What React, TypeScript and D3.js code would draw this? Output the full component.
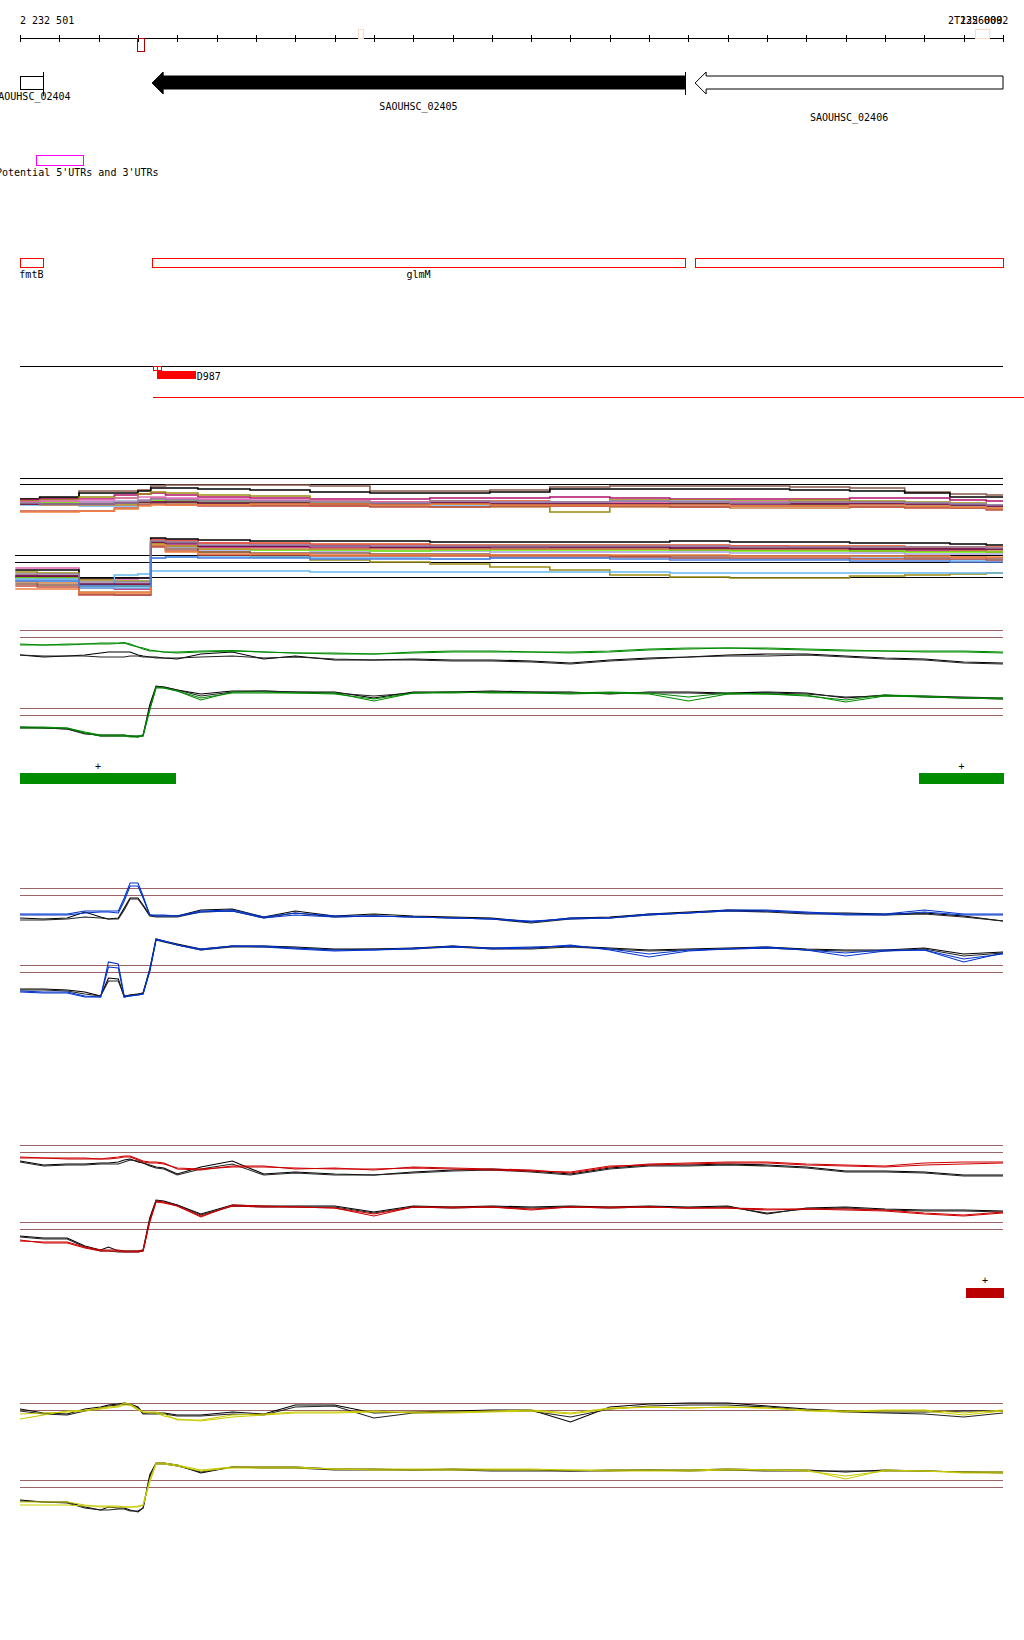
import React from 'react';
import * as d3 from 'd3';

// ---------------- genome window & axis ----------------
const START = 2232500;
const END = 2235000;
const AXIS_LEFT_LABEL = '2 232 501';
const AXIS_RIGHT_LABELS = ['2 235 000', 'T12260092'];

// ---------------- gene track ----------------
const GENE_NAMES = ['SAOUHSC_02404', 'SAOUHSC_02405', 'SAOUHSC_02406'];
const GENE_STARTS = [2232500, 2232836, 2234217];
const GENE_ENDS = [2232558, 2234191, 2235000];
const GENE_STRANDS = ['none', '-', '-'];
const GENE_FILLED = [false, true, false];

// ---------------- UTR / annotation tracks ----------------
const UTR_LABEL = "Potential 5'UTRs and 3'UTRs";
const UTR_START = [2232541];
const UTR_END = [2232660];
const ANNOT_NAMES = ['fmtB', 'glmM', ''];
const ANNOT_STARTS = [2232500, 2232836, 2234217];
const ANNOT_ENDS = [2232558, 2234191, 2235000];
const AXIS_MARK_STARTS = [2232798, 2233360, 2234929];
const AXIS_MARK_ENDS = [2232815, 2233372, 2234964];
const FEATURE_LABEL = 'D987';
const FEATURE_OPEN = [[2232838, 2232848], [2232848, 2232859]];
const FEATURE_FILLED = [2232848, 2232948];
const FEATURE_LINE = [2232838, 2235053];

// ---------------- expression tracks ----------------
const POS = [2232500, 2232560, 2232620, 2232665, 2232705, 2232725, 2232750, 2232765, 2232780, 2232800, 2232813, 2232830, 2232846, 2232866, 2232900, 2232960, 2233040, 2233120, 2233200, 2233300, 2233400, 2233500, 2233600, 2233700, 2233800, 2233900, 2234000, 2234100, 2234200, 2234300, 2234400, 2234500, 2234600, 2234700, 2234800, 2234900, 2235000];

const GREEN_TOP_C1 = [26, 25, 26, 26, 27, 27, 27, 27.5, 26, 23, 22, 20, 19, 18, 18, 19, 19.5, 18, 17, 16, 16, 18, 19, 19, 18, 18, 19, 21, 22, 22, 22, 21, 20, 19, 19, 19, 18];
const GREEN_TOP_C2 = [25, 25, 25, 26, 26, 26, 26.5, 27, 25, 23, 21, 19, 19, 18, 17, 18, 19, 18, 17, 17, 16, 17, 18, 18, 18, 17, 18, 20, 21, 22, 21, 20, 19, 19, 18, 18, 17];
const GREEN_TOP_K1 = [15, 13, 14, 15, 17, 18, 18, 18, 18, 15, 14, 13, 13, 12, 11, 16, 18, 11, 14, 10, 10, 11, 10, 10, 9, 7, 10, 12, 13, 15, 16, 16, 14, 12, 11, 8, 7];
const GREEN_TOP_K2 = [15, 14, 14, 14, 13, 13, 13, 13, 14, 14, 13, 13, 12, 12, 12, 13, 14, 12, 13, 11, 10, 10, 9, 9, 8, 6, 9, 11, 13, 14, 14, 15, 13, 11, 10, 7, 6];
const GREEN_BOT_K1 = [21, 20, 19, 15, 12, 12, 12, 12, 12, 11, 13, 43, 62, 61, 58, 54, 57, 57, 56, 56, 50, 56, 56, 57, 56, 56, 54, 56, 56, 55, 56, 55, 50, 53, 51, 50, 49];
const GREEN_BOT_K2 = [20, 20, 19, 14, 13, 13, 13, 13, 12, 12, 12, 40, 61, 61, 58, 52, 56, 57, 56, 55, 52, 55, 56, 56, 56, 55, 55, 55, 55, 54, 55, 54, 51, 52, 52, 51, 50];
const GREEN_BOT_C1 = [20, 20, 20, 15, 12, 12, 12, 12, 11, 11, 12, 38, 61, 60, 57, 48, 56, 56, 55, 55, 47, 55, 55, 56, 55, 54, 55, 54, 47, 54, 54, 53, 46, 52, 51, 50, 50];
const GREEN_BOT_C2 = [21, 21, 20, 16, 13, 13, 13, 13, 12, 12, 13, 39, 60, 60, 57, 50, 55, 55, 55, 54, 49, 55, 56, 55, 55, 55, 56, 55, 51, 55, 54, 52, 48, 53, 52, 50, 49];

const BLUE_TOP_C1 = [14, 14, 14, 17, 17, 17, 17, 30, 45, 45, 32, 13, 13, 13, 12, 17, 18, 11, 15, 12, 12, 11, 10, 9, 6, 10, 10, 14, 15, 18, 18, 16, 14, 14, 18, 14, 14];
const BLUE_TOP_C2 = [13, 13, 13, 15, 16, 16, 15, 27, 42, 42, 30, 13, 12, 12, 12, 16, 17, 10, 13, 11, 12, 11, 10, 9, 7, 9, 10, 13, 15, 17, 17, 15, 13, 13, 16, 13, 13];
const BLUE_TOP_K1 = [10, 9, 10, 16, 11, 9, 10, 20, 30, 30, 23, 13, 12, 12, 12, 18, 19, 11, 17, 12, 14, 12, 11, 10, 6, 10, 11, 14, 16, 18, 17, 15, 15, 14, 15, 12, 7];
const BLUE_TOP_K2 = [8, 8, 9, 11, 10, 9, 9, 18, 29, 29, 22, 12, 11, 11, 11, 16, 17, 10, 15, 11, 12, 11, 10, 9, 5, 9, 10, 13, 15, 17, 16, 14, 14, 13, 14, 11, 7];
const BLUE_BOT_C1 = [14, 13, 13, 9, 8, 43, 41, 9, 9, 10, 11, 35, 66, 64, 60, 55, 59, 58, 56, 54, 55, 56, 59, 56, 57, 60, 55, 48, 54, 56, 58, 55, 49, 54, 55, 43, 52];
const BLUE_BOT_C2 = [13, 12, 12, 8, 8, 38, 37, 8, 9, 10, 11, 34, 65, 64, 60, 56, 59, 59, 57, 55, 55, 57, 58, 57, 58, 59, 56, 51, 55, 56, 57, 55, 52, 55, 55, 46, 51];
const BLUE_BOT_K1 = [16, 16, 15, 13, 9, 27, 26, 8, 10, 11, 12, 36, 66, 64, 61, 56, 59, 59, 58, 56, 56, 57, 59, 57, 57, 59, 57, 55, 56, 57, 58, 56, 55, 55, 57, 51, 53];
const BLUE_BOT_K2 = [15, 15, 14, 11, 9, 24, 24, 9, 10, 11, 12, 34, 65, 63, 60, 55, 58, 58, 57, 55, 56, 56, 58, 56, 56, 58, 56, 54, 55, 56, 57, 55, 54, 54, 56, 49, 52];

const RED_TOP_C1 = [28, 27, 27, 27, 26, 27, 28, 29, 29, 26, 24, 23, 23, 22, 16, 15, 19, 19, 16, 17, 15, 18, 17, 16, 15, 12, 18, 21, 22, 23, 23, 21, 20, 19, 22, 23, 23];
const RED_TOP_C2 = [27, 27, 26, 26, 26, 26, 27, 28, 28, 25, 23, 22, 22, 21, 17, 16, 18, 18, 17, 16, 16, 17, 16, 15, 14, 13, 19, 20, 21, 22, 22, 20, 19, 18, 20, 21, 22];
const RED_TOP_K1 = [24, 20, 21, 21, 22, 22, 23, 25, 26, 23, 22, 20, 18, 17, 11, 18, 24, 11, 13, 11, 10, 13, 15, 16, 14, 11, 17, 20, 20, 21, 20, 18, 14, 14, 13, 10, 10];
const RED_TOP_K2 = [23, 19, 20, 20, 21, 21, 21, 23, 25, 24, 22, 19, 17, 16, 10, 16, 21, 10, 12, 10, 10, 12, 14, 15, 13, 10, 16, 19, 19, 20, 19, 17, 13, 13, 12, 9, 9];
const RED_BOT_K1 = [26, 24, 24, 16, 12, 15, 11, 11, 11, 11, 12, 44, 62, 61, 57, 48, 57, 56, 56, 56, 50, 56, 55, 56, 55, 56, 55, 56, 55, 56, 48, 54, 55, 53, 52, 52, 51];
const RED_BOT_K2 = [25, 23, 23, 15, 11, 11, 10, 10, 10, 10, 11, 42, 61, 60, 57, 47, 56, 55, 55, 55, 49, 55, 54, 55, 54, 55, 54, 55, 54, 55, 49, 53, 54, 52, 51, 51, 50];
const RED_BOT_C1 = [22, 19, 19, 14, 11, 11, 11, 10, 10, 10, 11, 40, 60, 59, 56, 45, 57, 56, 55, 54, 46, 55, 55, 55, 52, 55, 55, 55, 54, 54, 53, 53, 53, 52, 49, 47, 50];
const RED_BOT_C2 = [21, 20, 20, 15, 12, 12, 12, 11, 11, 11, 12, 41, 61, 60, 56, 46, 56, 55, 55, 54, 48, 55, 54, 55, 53, 55, 54, 55, 54, 54, 52, 53, 52, 51, 48, 46, 49];

const YELLOW_TOP_C1 = [24, 28, 32, 33, 35, 36, 37, 40, 39, 34, 31, 31, 31, 29, 23, 23, 28, 29, 31, 31, 32, 30, 30, 31, 32, 29, 34, 36, 35, 36, 35, 32, 31, 32, 32, 28, 32];
const YELLOW_TOP_C2 = [29, 30, 31, 32, 34, 35, 36, 38, 38, 33, 31, 30, 30, 27, 24, 22, 26, 28, 30, 30, 31, 31, 31, 32, 33, 30, 35, 36, 35, 36, 35, 33, 32, 33, 33, 30, 33];
const YELLOW_TOP_K1 = [34, 30, 29, 34, 36, 38, 39, 40, 39, 36, 30, 30, 30, 30, 28, 28, 31, 29, 38, 38, 30, 31, 32, 33, 33, 21, 36, 39, 40, 40, 37, 34, 32, 31, 31, 32, 32];
const YELLOW_TOP_K2 = [32, 29, 28, 32, 35, 37, 38, 39, 38, 35, 29, 29, 29, 29, 27, 27, 29, 28, 36, 37, 25, 30, 31, 32, 32, 26, 34, 37, 38, 38, 36, 33, 31, 30, 29, 26, 30];
const YELLOW_BOT_K1 = [20, 18, 18, 13, 10, 13, 12, 12, 10, 8, 12, 45, 57, 57, 55, 47, 53, 53, 53, 51, 51, 50, 51, 50, 50, 49, 50, 50, 50, 51, 50, 50, 48, 50, 49, 48, 48];
const YELLOW_BOT_K2 = [19, 18, 17, 12, 10, 10, 11, 11, 9, 9, 12, 43, 56, 56, 54, 48, 53, 52, 52, 50, 50, 50, 50, 49, 49, 49, 49, 50, 49, 50, 49, 49, 49, 49, 49, 48, 47];
const YELLOW_BOT_C1 = [18, 18, 18, 15, 13, 13, 13, 13, 13, 13, 15, 40, 57, 57, 55, 50, 53, 53, 53, 51, 51, 51, 51, 51, 51, 50, 50, 50, 50, 51, 50, 50, 41, 50, 49, 48, 48];
const YELLOW_BOT_C2 = [15, 15, 15, 14, 14, 14, 14, 13, 13, 14, 15, 38, 56, 56, 54, 49, 52, 52, 52, 51, 50, 50, 50, 50, 50, 50, 49, 49, 49, 50, 50, 49, 44, 49, 49, 47, 47];

// ---------------- multi-sample track ----------------
const MC_POS_TOP = [2232500, 2232600, 2232700, 2232780, 2232820, 2232845, 2232895, 2233010, 2233160, 2233315, 2233465, 2233620, 2233770, 2233925, 2234075, 2234230, 2234380, 2234535, 2234685, 2234815, 2234915, 2235000];
const MC_POS_BOT = [2232488, 2232600, 2232700, 2232780, 2232820, 2232845, 2232895, 2233010, 2233160, 2233315, 2233465, 2233620, 2233770, 2233925, 2234075, 2234230, 2234380, 2234535, 2234685, 2234815, 2234915, 2235000];
const MC_TOP_COLORS = ['#8b5a4a', '#000000', '#b0106a', '#9a8c10', '#e0502a', '#a8a0e0', '#70f000', '#e070c0', '#66b8f0', '#c88040', '#c05040', '#600040', '#f08040', '#9080a0'];
const MC_TOP = [
  [19, 20, 27, 27, 28, 32, 33, 33, 33, 32, 27, 27, 28, 31, 32, 32, 32, 31, 30, 26, 24, 23],
  [19, 21, 25, 25, 27, 30, 30, 29, 28, 26, 25, 25, 26, 29, 29, 29, 29, 28, 27, 25, 21, 21],
  [18, 19, 19, 23, 24, 25, 23, 21, 20, 19, 19, 20, 20, 21, 20, 19, 19, 19, 20, 20, 18, 17],
  [17, 18, 21, 20, 24, 26, 25, 23, 22, 17, 16, 14, 12, 6, 18, 18, 17, 18, 17, 16, 15, 13],
  [16, 16, 16, 16, 18, 20, 19, 18, 17, 16, 16, 17, 17, 16, 16, 15, 16, 16, 16, 15, 14, 12],
  [15, 15, 16, 17, 18, 18, 18, 17, 16, 16, 15, 16, 16, 16, 17, 17, 16, 15, 15, 15, 14, 13],
  [15, 15, 14, 14, 16, 17, 17, 16, 15, 15, 14, 15, 14, 14, 14, 15, 15, 14, 14, 13, 12, 11],
  [16, 17, 18, 20, 21, 21, 20, 19, 18, 17, 16, 16, 15, 15, 15, 16, 16, 15, 14, 14, 13, 12],
  [13, 13, 12, 12, 14, 15, 14, 13, 13, 13, 12, 12, 13, 13, 13, 12, 12, 12, 13, 12, 12, 10],
  [14, 13, 13, 13, 15, 16, 15, 14, 13, 12, 12, 11, 11, 12, 11, 11, 10, 10, 11, 11, 10, 9],
  [7, 7, 7, 10, 13, 14, 13, 12, 12, 12, 11, 11, 12, 12, 12, 11, 12, 12, 11, 10, 10, 8],
  [14, 14, 14, 15, 16, 16, 16, 15, 15, 14, 14, 15, 14, 14, 14, 14, 14, 14, 14, 14, 13, 12],
  [6, 6, 7, 9, 12, 13, 13, 13, 14, 14, 13, 14, 13, 13, 13, 13, 12, 12, 13, 12, 11, 10],
  [15, 14, 14, 15, 17, 19, 18, 17, 17, 16, 15, 17, 16, 16, 17, 16, 15, 16, 16, 15, 14, 13],
];
const MC_BOT_COLORS = ['#e060b0', '#000000', '#9a8c10', '#e0502a', '#b0106a', '#a8a0e0', '#70f000', '#66b8f0', '#66b8f0', '#c88040', '#8b5a4a', '#c05040', '#f08040', '#600040', '#9080a0', '#5080e0'];
const MC_BOT = [
  [27, 27, 16, 16, 17, 56, 55, 52, 51, 50, 50, 49, 49, 48, 48, 48, 49, 48, 47, 47, 46, 46],
  [25, 25, 17, 17, 17, 57, 56, 55, 54, 54, 54, 53, 53, 53, 53, 54, 53, 53, 52, 52, 51, 50],
  [23, 22, 15, 14, 14, 52, 48, 43, 38, 35, 33, 31, 28, 25, 20, 18, 17, 17, 19, 20, 21, 22],
  [20, 19, 10, 10, 10, 55, 54, 52, 52, 51, 51, 50, 50, 50, 50, 50, 49, 49, 49, 48, 48, 48],
  [18, 18, 7, 6, 6, 52, 50, 48, 48, 47, 47, 47, 46, 46, 46, 45, 45, 45, 44, 44, 44, 43],
  [15, 16, 8, 9, 9, 50, 48, 45, 45, 44, 44, 44, 43, 43, 43, 43, 42, 42, 42, 41, 41, 41],
  [17, 17, 9, 9, 9, 51, 49, 46, 45, 45, 44, 45, 45, 45, 45, 45, 44, 44, 44, 43, 43, 43],
  [16, 16, 10, 20, 21, 24, 24, 24, 24, 23, 23, 23, 23, 23, 23, 22, 22, 22, 22, 22, 22, 22],
  [14, 14, 7, 7, 7, 37, 38, 38, 38, 37, 37, 36, 37, 37, 38, 37, 36, 36, 37, 36, 35, 35],
  [13, 12, 3, 3, 3, 52, 49, 46, 46, 46, 46, 46, 46, 46, 46, 46, 46, 46, 46, 46, 45, 45],
  [11, 10, 1, 0, 0, 49, 46, 43, 42, 42, 41, 41, 40, 40, 39, 39, 39, 39, 39, 38, 38, 37],
  [9, 8, 0, 0, 0, 48, 44, 40, 40, 39, 39, 39, 38, 38, 38, 37, 37, 37, 36, 36, 36, 35],
  [6, 6, 2, 2, 2, 50, 43, 41, 41, 40, 40, 40, 40, 40, 40, 40, 39, 39, 39, 39, 38, 38],
  [19, 19, 11, 11, 11, 53, 52, 49, 49, 49, 48, 48, 48, 48, 48, 47, 47, 47, 46, 46, 46, 46],
  [21, 21, 13, 13, 13, 54, 53, 50, 50, 49, 49, 49, 49, 49, 49, 49, 48, 48, 48, 48, 48, 47],
  [14, 14, 9, 9, 9, 37, 38, 37, 37, 36, 36, 36, 37, 37, 36, 35, 35, 35, 34, 34, 33, 33],
];

// ---------------- strand call markers ----------------
const GREEN_CALL_STARTS = [2232500, 2234786];
const GREEN_CALL_ENDS = [2232897, 2235003];
const RED_CALL_STARTS = [2234906];
const RED_CALL_ENDS = [2235003];

const THRESHOLDS = [40, 33];

const FONT = "'DejaVu Sans Mono', 'Liberation Mono', monospace";
const BROWN = '#9a6464';

const x = d3.scaleLinear().domain([START, END]).range([20, 1003]);
const trackY = (yHi: number) => d3.scaleLinear().domain([33, 40]).range([yHi + 7, yHi]);

function path(pos: number[], vals: number[], y: d3.ScaleLinear<number, number>, curve: d3.CurveFactory) {
  return d3.line<number>()
    .defined((v) => v != null)
    .x((_, i) => x(pos[i]))
    .y((v) => y(v))
    .curve(curve)(vals) || '';
}

function Panel({ yTop, yBot, color, top, bot }: any) {
  const yt = trackY(yTop);
  const yb = trackY(yBot);
  const lines: any[] = [];
  const add = (vals: number[], y: any, c: string, k: string) =>
    lines.push(<path key={k} d={path(POS, vals, y, d3.curveLinear)} fill="none" stroke={c} strokeWidth={1.1} />);
  add(top[0], yt, '#000', 't0');
  add(top[1], yt, '#222', 't1');
  add(top[2], yt, color, 't2');
  add(top[3], yt, color, 't3');
  add(bot[0], yb, '#000', 'b0');
  add(bot[1], yb, '#222', 'b1');
  add(bot[2], yb, color, 'b2');
  add(bot[3], yb, color, 'b3');
  return (
    <g>
      {[yt, yb].map((y, j) =>
        THRESHOLDS.map((t) => (
          <line key={`th${j}${t}`} x1={x(START)} x2={x(END)} y1={Math.round(y(t)) + 0.5} y2={Math.round(y(t)) + 0.5}
            stroke={BROWN} strokeWidth={1} shapeRendering="crispEdges" />
        ))
      )}
      {lines}
    </g>
  );
}

export default function App() {
  const axisY = 38;
  const ticks = x.ticks(25);
  const geneY0 = 76, geneY1 = 89, headY0 = 72, headY1 = 94, yc = 83;
  const labelBaselines = [100, 110, 121];
  const mcTopY = trackY(478);
  const mcBotY = trackY(555);

  return (
    <svg width={1024} height={1640} style={{ position: 'absolute', left: 0, top: 0, background: '#fff' }}
      fontFamily={FONT} fontSize={10}>
      <rect x={0} y={0} width={1024} height={1640} fill="#fff" />
      {/* axis */}
      <text x={20} y={24}>{AXIS_LEFT_LABEL}</text>
      <text x={948} y={24}>{AXIS_RIGHT_LABELS[0]}</text>
      <text x={954} y={24}>{AXIS_RIGHT_LABELS[1]}</text>
      <line x1={x(START)} x2={x(END)} y1={axisY + 0.5} y2={axisY + 0.5} stroke="#000" shapeRendering="crispEdges" />
      {ticks.map((t) => (
        <line key={t} x1={Math.round(x(t)) + 0.5} x2={Math.round(x(t)) + 0.5} y1={35} y2={42} stroke="#000" shapeRendering="crispEdges" />
      ))}
      {AXIS_MARK_STARTS.map((s, i) => (
        <rect key={'am' + i} x={Math.round(x(s)) + 0.5} y={i === 0 ? axisY + 0.5 : 29.5}
          width={Math.round(x(AXIS_MARK_ENDS[i]) - x(s))} height={i === 0 ? 13 : 9}
          fill="none" stroke={i === 0 ? '#b00000' : '#ffd8c8'} shapeRendering="crispEdges" />
      ))}

      {/* genes */}
      {GENE_NAMES.map((name, i) => {
        const s = x(GENE_STARTS[i]);
        const e = x(GENE_ENDS[i]);
        let shape;
        if (GENE_STRANDS[i] === 'none') {
          shape = <rect x={s + 0.5} y={geneY0 + 0.5} width={e - s} height={geneY1 - geneY0} fill="#fff" stroke="#000" shapeRendering="crispEdges" />;
        } else {
          const pts = [[s, yc], [s + 11, headY0], [s + 11, geneY0], [e, geneY0], [e, geneY1], [s + 11, geneY1], [s + 11, headY1]];
          shape = <polygon points={pts.map((p) => p.join(',')).join(' ')} fill={GENE_FILLED[i] ? '#000' : '#fff'} stroke="#000" strokeWidth={1} />;
        }
        return (
          <g key={name}>
            {shape}
            {i < 2 && <line x1={Math.round(e) + 0.5} x2={Math.round(e) + 0.5} y1={headY0} y2={headY1 + 1} stroke="#000" shapeRendering="crispEdges" />}
            <text x={(s + e) / 2} y={labelBaselines[i]} textAnchor="middle">{name}</text>
          </g>
        );
      })}

      {/* UTRs */}
      {UTR_START.map((s, i) => (
        <rect key={'utr' + i} x={Math.round(x(s)) + 0.5} y={155.5} width={Math.round(x(UTR_END[i]) - x(s))} height={10}
          fill="none" stroke="#ff00ff" shapeRendering="crispEdges" />
      ))}
      <text x={-4} y={176}>{UTR_LABEL}</text>

      {/* annotations */}
      {ANNOT_STARTS.map((s, i) => (
        <g key={'an' + i}>
          <rect x={Math.round(x(s)) + 0.5} y={258.5} width={Math.round(x(ANNOT_ENDS[i]) - x(s))} height={9}
            fill="none" stroke="#ff0000" shapeRendering="crispEdges" />
          {ANNOT_NAMES[i] && <text x={(x(s) + x(ANNOT_ENDS[i])) / 2} y={278} textAnchor="middle">{ANNOT_NAMES[i]}</text>}
        </g>
      ))}

      {/* feature track */}
      <line x1={x(START)} x2={x(END)} y1={366.5} y2={366.5} stroke="#000" shapeRendering="crispEdges" />
      {FEATURE_OPEN.map((f, i) => (
        <rect key={'fo' + i} x={Math.round(x(f[0])) + 0.5} y={366.5} width={Math.round(x(f[1]) - x(f[0]))} height={4}
          fill="none" stroke="#ff0000" shapeRendering="crispEdges" />
      ))}
      <rect x={Math.round(x(FEATURE_FILLED[0]))} y={371} width={Math.round(x(FEATURE_FILLED[1]) - x(FEATURE_FILLED[0]))} height={8}
        fill="#ff0000" shapeRendering="crispEdges" />
      <text x={x(FEATURE_FILLED[1]) + 0.5} y={380}>{FEATURE_LABEL}</text>
      <line x1={x(FEATURE_LINE[0])} x2={x(FEATURE_LINE[1])} y1={397.5} y2={397.5} stroke="#ff0000" shapeRendering="crispEdges" />

      {/* multi-sample track */}
      {[40, 34].map((t) => (
        <line key={'mt' + t} x1={x(START)} x2={x(END)} y1={Math.round(mcTopY(t)) + 0.5} y2={Math.round(mcTopY(t)) + 0.5}
          stroke="#000" shapeRendering="crispEdges" />
      ))}
      {MC_TOP.map((vals, i) => (
        <path key={'mct' + i} d={path(MC_POS_TOP, vals, mcTopY, d3.curveStep)} fill="none" stroke={MC_TOP_COLORS[i]}
          strokeWidth={1.6} />
      ))}
      {[40, 33, 18].map((t) => (
        <line key={'mb' + t} x1={x(MC_POS_BOT[0])} x2={x(END)} y1={Math.round(mcBotY(t)) + 0.5} y2={Math.round(mcBotY(t)) + 0.5}
          stroke="#000" shapeRendering="crispEdges" />
      ))}
      {MC_BOT.map((vals, i) => (
        <path key={'mcb' + i} d={path(MC_POS_BOT, vals, mcBotY, d3.curveStep)} fill="none" stroke={MC_BOT_COLORS[i]}
          strokeWidth={1.6} />
      ))}

      {/* green */}
      <Panel yTop={630} yBot={708} color="#008a00"
        top={[GREEN_TOP_K1, GREEN_TOP_K2, GREEN_TOP_C1, GREEN_TOP_C2]}
        bot={[GREEN_BOT_K1, GREEN_BOT_K2, GREEN_BOT_C1, GREEN_BOT_C2]} />
      {GREEN_CALL_STARTS.map((s, i) => (
        <g key={'gc' + i}>
          <rect x={Math.round(x(s))} y={773} width={Math.round(x(GREEN_CALL_ENDS[i]) - x(s))} height={11} fill="#008c00" shapeRendering="crispEdges" />
          <text x={(x(s) + x(GREEN_CALL_ENDS[i])) / 2} y={770} textAnchor="middle">+</text>
        </g>
      ))}

      {/* blue */}
      <Panel yTop={888} yBot={965} color="#0033cc"
        top={[BLUE_TOP_K1, BLUE_TOP_K2, BLUE_TOP_C1, BLUE_TOP_C2]}
        bot={[BLUE_BOT_K1, BLUE_BOT_K2, BLUE_BOT_C1, BLUE_BOT_C2]} />

      {/* red */}
      <Panel yTop={1145} yBot={1222} color="#cc0000"
        top={[RED_TOP_K1, RED_TOP_K2, RED_TOP_C1, RED_TOP_C2]}
        bot={[RED_BOT_K1, RED_BOT_K2, RED_BOT_C1, RED_BOT_C2]} />
      {RED_CALL_STARTS.map((s, i) => (
        <g key={'rc' + i}>
          <rect x={Math.round(x(s))} y={1288} width={Math.round(x(RED_CALL_ENDS[i]) - x(s))} height={10} fill="#bb0000" shapeRendering="crispEdges" />
          <text x={(x(s) + x(RED_CALL_ENDS[i])) / 2} y={1284} textAnchor="middle">+</text>
        </g>
      ))}

      {/* yellow */}
      <Panel yTop={1403} yBot={1480} color="#c8cc00"
        top={[YELLOW_TOP_K1, YELLOW_TOP_K2, YELLOW_TOP_C1, YELLOW_TOP_C2]}
        bot={[YELLOW_BOT_K1, YELLOW_BOT_K2, YELLOW_BOT_C1, YELLOW_BOT_C2]} />
    </svg>
  );
}
